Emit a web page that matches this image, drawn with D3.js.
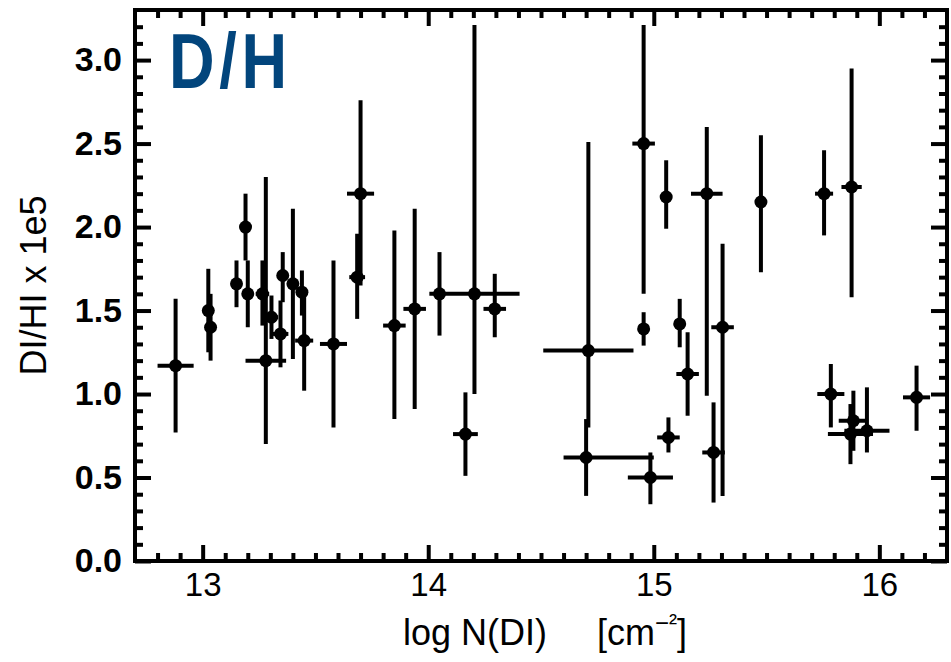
<!DOCTYPE html>
<html>
<head>
<meta charset="utf-8">
<script src="https://cdn.jsdelivr.net/npm/d3@7"></script>
<style>
  html, body { margin: 0; padding: 0; background: #fff; }
  svg { display: block; }
</style>
</head>
<body>
<svg id="chart" width="951" height="662"></svg>
<script>
// D/H measurements: column density of DI vs. D/H ratio (x 1e5)
const logN = [12.88, 13.025, 13.035, 13.15, 13.19, 13.20, 13.265, 13.28, 13.305, 13.345,
  13.355, 13.40, 13.44, 13.45, 13.58, 13.685, 13.70, 13.85, 13.94, 14.05,
  14.205, 14.165, 14.295, 14.71, 14.70, 14.985, 14.955, 14.955, 15.055, 15.115,
  15.065, 15.15, 15.235, 15.265, 15.305, 15.475, 15.755, 15.877, 15.785, 15.885,
  15.872, 15.945, 16.165];
const ratio = [1.17, 1.50, 1.40, 1.66, 2.00, 1.60, 1.60, 1.20, 1.46, 1.36,
  1.71, 1.66, 1.61, 1.32, 1.30, 1.70, 2.20, 1.41, 1.51, 1.60,
  1.60, 0.76, 1.51, 1.26, 0.62, 0.50, 2.50, 1.39, 2.18, 1.42,
  0.74, 1.12, 2.20, 0.65, 1.40, 2.15, 2.20, 2.24, 1.00, 0.84,
  0.76, 0.78, 0.98];
// horizontal error (minus / plus) in log N
const logNMinus = [0.08, 0, 0, 0, 0, 0.025, 0.03, 0.09, 0.03, 0.035,
  0, 0, 0, 0.04, 0.06, 0.035, 0.06, 0.05, 0.05, 0,
  0.20, 0.055, 0.05, 0.20, 0.10, 0.10, 0.05, 0, 0, 0,
  0.05, 0.05, 0.07, 0.05, 0.05, 0, 0.04, 0.045, 0.06, 0.065,
  0.10, 0.10, 0.06];
const logNPlus = [0.08, 0, 0, 0, 0, 0.025, 0.03, 0.09, 0.03, 0.035,
  0, 0, 0, 0.04, 0.06, 0.035, 0.06, 0.05, 0.05, 0,
  0.20, 0.055, 0.05, 0.20, 0.30, 0.10, 0.05, 0, 0, 0,
  0.05, 0.05, 0.07, 0.05, 0.05, 0, 0.04, 0.045, 0.06, 0.065,
  0.10, 0.10, 0.06];
// vertical error range of the ratio
const ratioLow = [0.77, 1.25, 1.20, 1.52, 1.80, 1.40, 1.41, 0.70, 1.33, 1.16,
  1.55, 1.21, 1.47, 1.02, 0.80, 1.45, 1.65, 0.85, 0.91, 1.35,
  1.00, 0.51, 1.34, 0.80, 0.39, 0.34, 1.60, 1.29, 1.99, 1.28,
  0.65, 0.87, 0.99, 0.35, 0.39, 1.73, 1.95, 1.58, 0.80, 0.66,
  0.58, 0.65, 0.78];
const ratioHigh = [1.57, 1.75, 1.60, 1.80, 2.20, 1.80, 1.80, 2.30, 1.59, 1.56,
  1.85, 2.11, 1.74, 1.62, 1.80, 1.96, 2.76, 1.98, 2.11, 1.85,
  3.21, 1.01, 1.72, 2.51, 0.85, 0.65, 3.21, 1.49, 2.40, 1.57,
  0.86, 1.37, 2.60, 0.95, 1.90, 2.55, 2.46, 2.95, 1.18, 1.02,
  0.94, 1.04, 1.17];

const xMajorTicks = [13, 14, 15, 16];
const xTickLabels = ["13", "14", "15", "16"];
const yMajorTicks = [0, 0.5, 1.0, 1.5, 2.0, 2.5, 3.0];
const yTickLabels = ["0.0", "0.5", "1.0", "1.5", "2.0", "2.5", "3.0"];
const xTitle = "log N(DI)";
const xUnit = "[cm";
const xUnitSup = "\u2212\u00B2";
const yTitle = "DI/HI x 1e5";
const panelLabel = "D/H";

const svg = d3.select("#chart");
const plotLeft = 135, plotRight = 947, plotTop = 10, plotBottom = 561;

const x = d3.scaleLinear().domain([12.7, 16.3]).range([plotLeft, plotRight]);
const y = d3.scaleLinear().domain([0, 3.3]).range([plotBottom, plotTop]);

const xMinor = d3.range(128, 163).map(d => d / 10).filter(d => !xMajorTicks.some(m => Math.abs(m - d) < 1e-6));
const yMinor = d3.range(1, 33).map(d => d / 10).filter(d => !yMajorTicks.some(m => Math.abs(m - d) < 1e-6));

const majorLen = 16, minorLen = 8, tickW = 4;

function styleAxis(g) {
  g.select(".domain").remove();
  g.selectAll(".tick line").attr("stroke", "#000").attr("stroke-width", tickW);
}

// bottom axis (labels) and top axis, ticks pointing inward
svg.append("g").attr("transform", `translate(0,${plotBottom})`)
  .call(d3.axisBottom(x).tickValues(xMajorTicks).tickSize(-majorLen).tickPadding(12)
    .tickFormat((d, i) => xTickLabels[i]))
  .call(styleAxis)
  .call(g => g.selectAll("text").attr("font-family", "Liberation Sans, Arial, sans-serif")
    .attr("font-size", 33).attr("fill", "#000"));
svg.append("g").attr("transform", `translate(0,${plotBottom})`)
  .call(d3.axisBottom(x).tickValues(xMinor).tickSize(-minorLen).tickFormat(""))
  .call(styleAxis);
svg.append("g").attr("transform", `translate(0,${plotTop})`)
  .call(d3.axisTop(x).tickValues(xMajorTicks).tickSize(-majorLen).tickFormat(""))
  .call(styleAxis);
svg.append("g").attr("transform", `translate(0,${plotTop})`)
  .call(d3.axisTop(x).tickValues(xMinor).tickSize(-minorLen).tickFormat(""))
  .call(styleAxis);

// left axis (labels) and right axis
svg.append("g").attr("transform", `translate(${plotLeft},0)`)
  .call(d3.axisLeft(y).tickValues(yMajorTicks).tickSize(-majorLen).tickPadding(13)
    .tickFormat((d, i) => yTickLabels[i]))
  .call(styleAxis)
  .call(g => g.selectAll("text").attr("font-family", "Liberation Sans, Arial, sans-serif")
    .attr("font-weight", "bold").attr("font-size", 34).attr("fill", "#000"));
svg.append("g").attr("transform", `translate(${plotLeft},0)`)
  .call(d3.axisLeft(y).tickValues(yMinor).tickSize(-minorLen).tickFormat(""))
  .call(styleAxis);
svg.append("g").attr("transform", `translate(${plotRight},0)`)
  .call(d3.axisRight(y).tickValues(yMajorTicks).tickSize(-majorLen).tickFormat(""))
  .call(styleAxis);
svg.append("g").attr("transform", `translate(${plotRight},0)`)
  .call(d3.axisRight(y).tickValues(yMinor).tickSize(-minorLen).tickFormat(""))
  .call(styleAxis);

// plot frame
svg.append("rect")
  .attr("x", plotLeft).attr("y", plotTop)
  .attr("width", plotRight - plotLeft).attr("height", plotBottom - plotTop)
  .attr("fill", "none").attr("stroke", "#000").attr("stroke-width", 4);

// error bars and points
const pts = logN.map((v, i) => ({
  x: v, y: ratio[i], xm: logNMinus[i], xp: logNPlus[i], lo: ratioLow[i], hi: ratioHigh[i]
}));
const marks = svg.append("g");
marks.selectAll("line.ey").data(pts).join("line").attr("class", "ey")
  .attr("x1", d => x(d.x)).attr("x2", d => x(d.x))
  .attr("y1", d => y(d.lo)).attr("y2", d => y(d.hi))
  .attr("stroke", "#000").attr("stroke-width", 4);
marks.selectAll("line.ex").data(pts.filter(d => d.xm > 0 || d.xp > 0)).join("line").attr("class", "ex")
  .attr("x1", d => x(d.x - d.xm)).attr("x2", d => x(d.x + d.xp))
  .attr("y1", d => y(d.y)).attr("y2", d => y(d.y))
  .attr("stroke", "#000").attr("stroke-width", 4);
marks.selectAll("circle").data(pts).join("circle")
  .attr("cx", d => x(d.x)).attr("cy", d => y(d.y)).attr("r", 6.5)
  .attr("fill", "#000");

// axis titles
const xt = svg.append("text")
  .attr("x", (plotLeft + plotRight) / 2 + 4).attr("y", 645)
  .attr("text-anchor", "middle")
  .attr("font-family", "Liberation Sans, Arial, sans-serif").attr("font-size", 36)
  .style("white-space", "pre").attr("fill", "#000");
xt.append("tspan").text(xTitle + "     " + xUnit);
xt.append("tspan").attr("font-size", 24).attr("dy", -14).text(xUnitSup);
xt.append("tspan").attr("dy", 14).text("]");

svg.append("text")
  .attr("transform", `translate(46,${(plotTop + plotBottom) / 2}) rotate(-90)`)
  .attr("text-anchor", "middle")
  .attr("font-family", "Liberation Sans, Arial, sans-serif").attr("font-size", 36)
  .attr("fill", "#000")
  .text(yTitle);

// panel label
svg.append("text")
  .attr("transform", "translate(169,88) scale(0.82,1)")
  .attr("font-family", "Liberation Sans, Arial, sans-serif").attr("font-weight", "bold")
  .attr("font-size", 77).attr("fill", "#02457c")
  .attr("textLength", 118 / 0.82).attr("lengthAdjust", "spacing")
  .text(panelLabel);
</script>
</body>
</html>
